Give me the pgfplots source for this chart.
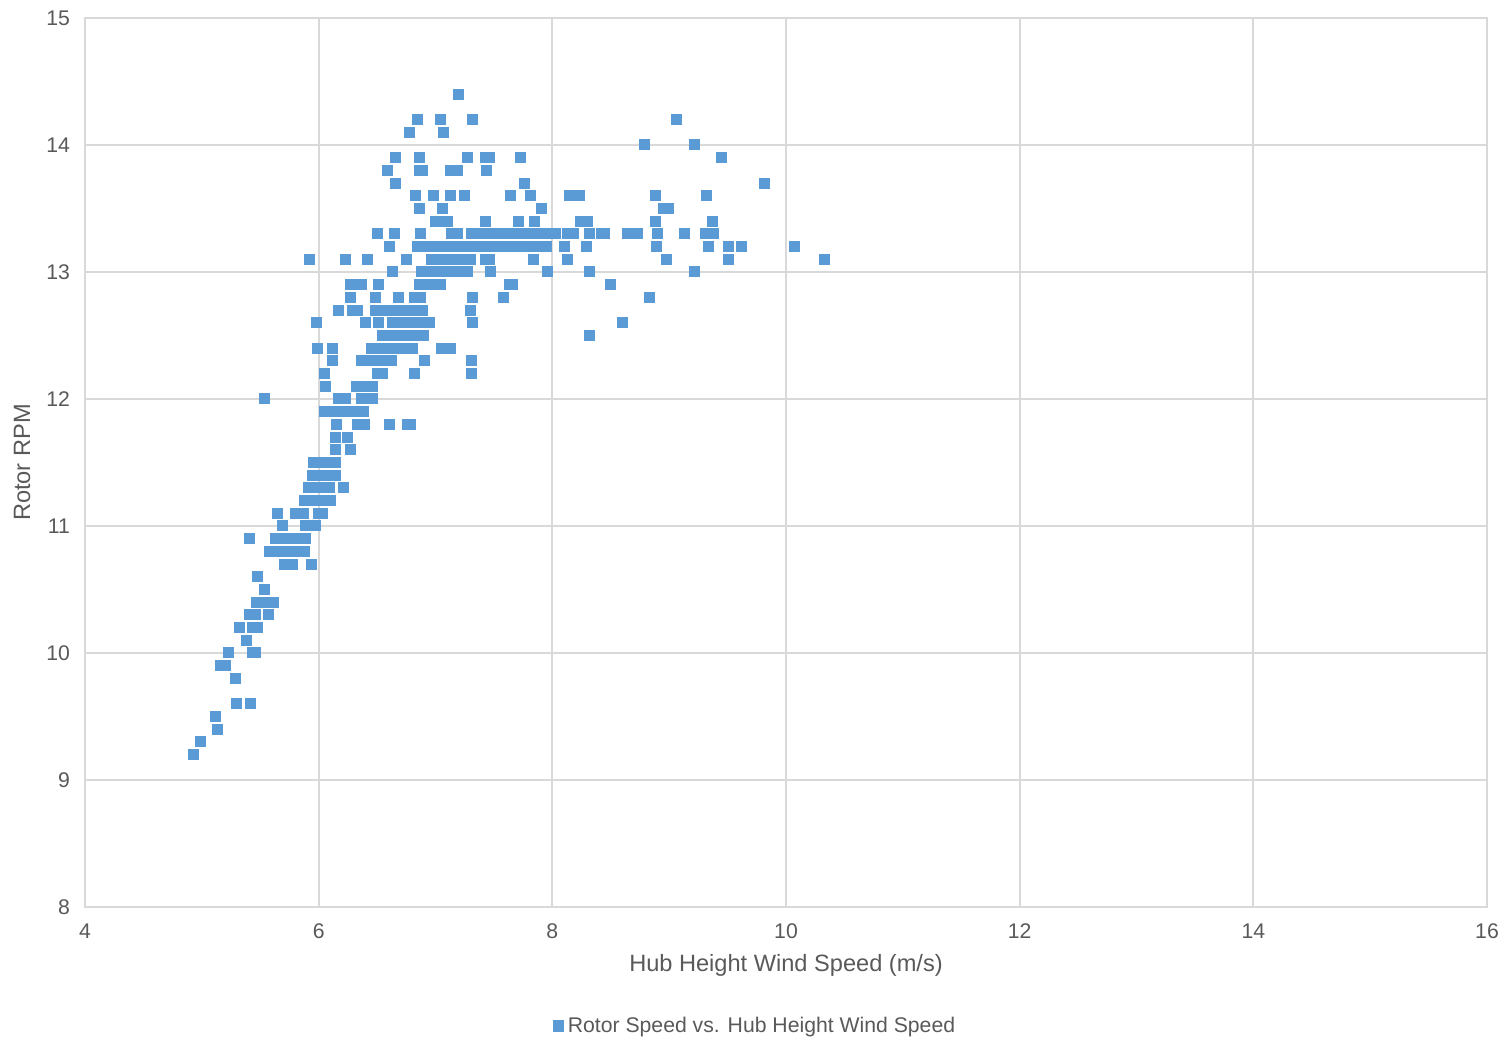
\documentclass[border=0pt]{standalone}
\usepackage{pgfplots}
\pgfplotsset{compat=1.18}
\usepackage{fontspec}
\setmainfont{Liberation Sans}
\definecolor{xblue}{RGB}{91,155,213}
\definecolor{xgrid}{RGB}{217,217,217}
\definecolor{xtext}{RGB}{89,89,89}
\begin{document}
\begin{tikzpicture}
\begin{axis}[
  name=ax,
  scale only axis,
  width=701bp, height=444.5bp,
  xmin=4, xmax=16, ymin=8, ymax=15,
  xtick={4,6,8,10,12,14,16},
  ytick={8,9,10,11,12,13,14,15},
  major tick length=0pt,
  grid=major,
  major grid style={xgrid, line width=1bp},
  axis line style={xgrid, line width=1bp},
  /pgf/number format/assume math mode=true,
  tick label style={font=\fontsize{10.6bp}{12bp}\selectfont, text=xtext},
  xticklabel style={yshift=-5bp},
  yticklabel style={xshift=-4bp},
  xlabel={Hub Height Wind Speed (m/s)},
  ylabel={Rotor RPM},
  label style={font=\fontsize{11.8bp}{14bp}\selectfont, text=xtext},
  xlabel style={at={(axis description cs:0.5,-0.0652)}, anchor=center},
  ylabel style={at={(axis description cs:-0.0449,0.5)}, anchor=center},
  legend style={at={(axis description cs:0.4786,-0.1339)}, anchor=center, draw=none, fill=none,
    font=\fontsize{10.6bp}{12bp}\selectfont, text=xtext, inner sep=0pt},
  legend image code/.code={\fill[xblue] (0bp,-2.6bp) rectangle (5bp,2.6bp);},
  legend style={/tikz/every even column/.append style={column sep=1.5bp}},
  clip=false,
]
\addplot[color=xblue, only marks, mark=square*, mark size=2.5bp, line width=0.5bp, mark options={draw=xblue, fill=xblue, solid}] table[row sep=\\] {
x y\\
4.93 9.2\\ 4.99 9.3\\ 5.13 9.4\\ 5.12 9.5\\ 5.30 9.6\\ 5.42 9.6\\ 5.29 9.8\\
5.16 9.9\\ 5.20 9.9\\ 5.23 10.0\\ 5.43 10.0\\ 5.46 10.0\\ 5.38 10.1\\
5.32 10.2\\ 5.43 10.2\\ 5.48 10.2\\ 5.41 10.3\\ 5.46 10.3\\ 5.57 10.3\\
5.47 10.4\\ 5.54 10.4\\ 5.61 10.4\\ 5.54 10.5\\ 5.48 10.6\\
5.71 10.7\\ 5.78 10.7\\ 5.94 10.7\\
5.58 10.8\\ 5.63 10.8\\ 5.68 10.8\\ 5.73 10.8\\ 5.78 10.8\\ 5.83 10.8\\ 5.88 10.8\\
5.41 10.9\\ 5.63 10.9\\ 5.68 10.9\\ 5.73 10.9\\ 5.78 10.9\\ 5.84 10.9\\ 5.89 10.9\\
5.69 11.0\\ 5.89 11.0\\ 5.97 11.0\\
5.65 11.1\\ 5.80 11.1\\ 5.87 11.1\\ 6.00 11.1\\ 6.03 11.1\\
5.88 11.2\\ 5.93 11.2\\ 5.99 11.2\\ 6.04 11.2\\ 6.10 11.2\\
5.91 11.3\\ 5.96 11.3\\ 6.00 11.3\\ 6.05 11.3\\ 6.09 11.3\\ 6.21 11.3\\
5.95 11.4\\ 6.00 11.4\\ 6.05 11.4\\ 6.10 11.4\\ 6.14 11.4\\
5.96 11.5\\ 6.01 11.5\\ 6.06 11.5\\ 6.10 11.5\\ 6.14 11.5\\
6.14 11.6\\ 6.27 11.6\\ 6.14 11.7\\ 6.25 11.7\\
6.15 11.8\\ 6.33 11.8\\ 6.39 11.8\\ 6.61 11.8\\ 6.76 11.8\\ 6.79 11.8\\
6.05 11.9\\ 6.10 11.9\\ 6.15 11.9\\ 6.20 11.9\\ 6.25 11.9\\ 6.30 11.9\\ 6.34 11.9\\ 6.38 11.9\\
5.54 12.0\\ 6.17 12.0\\ 6.23 12.0\\ 6.37 12.0\\ 6.41 12.0\\ 6.46 12.0\\
6.06 12.1\\ 6.32 12.1\\ 6.37 12.1\\ 6.41 12.1\\ 6.46 12.1\\
6.05 12.2\\ 6.50 12.2\\ 6.55 12.2\\ 6.82 12.2\\ 7.31 12.2\\
6.12 12.3\\ 6.37 12.3\\ 6.42 12.3\\ 6.47 12.3\\ 6.52 12.3\\ 6.57 12.3\\ 6.62 12.3\\ 6.91 12.3\\ 7.31 12.3\\
5.99 12.4\\ 6.12 12.4\\ 6.45 12.4\\ 6.50 12.4\\ 6.55 12.4\\ 6.60 12.4\\ 6.65 12.4\\ 6.70 12.4\\ 6.75 12.4\\ 6.80 12.4\\ 7.05 12.4\\ 7.13 12.4\\
6.55 12.5\\ 6.60 12.5\\ 6.65 12.5\\ 6.70 12.5\\ 6.75 12.5\\ 6.80 12.5\\ 6.85 12.5\\ 6.90 12.5\\ 8.32 12.5\\
5.98 12.6\\ 6.40 12.6\\ 6.51 12.6\\ 6.63 12.6\\ 6.68 12.6\\ 6.73 12.6\\ 6.79 12.6\\ 6.84 12.6\\ 6.90 12.6\\ 6.95 12.6\\ 7.32 12.6\\ 8.60 12.6\\
6.17 12.7\\ 6.29 12.7\\ 6.33 12.7\\ 6.49 12.7\\ 6.54 12.7\\ 6.59 12.7\\ 6.64 12.7\\ 6.69 12.7\\ 6.74 12.7\\ 6.79 12.7\\ 6.84 12.7\\ 6.89 12.7\\ 7.30 12.7\\
6.27 12.8\\ 6.49 12.8\\ 6.68 12.8\\ 6.82 12.8\\ 6.87 12.8\\ 7.32 12.8\\ 7.58 12.8\\ 8.83 12.8\\
6.27 12.9\\ 6.37 12.9\\ 6.51 12.9\\ 6.86 12.9\\ 6.91 12.9\\ 6.96 12.9\\ 7.00 12.9\\ 7.04 12.9\\ 7.63 12.9\\ 7.66 12.9\\ 8.50 12.9\\
6.63 13.0\\ 6.88 13.0\\ 6.93 13.0\\ 6.98 13.0\\ 7.03 13.0\\ 7.08 13.0\\ 7.13 13.0\\ 7.18 13.0\\ 7.23 13.0\\ 7.27 13.0\\ 7.47 13.0\\ 7.96 13.0\\ 8.32 13.0\\ 9.22 13.0\\
5.92 13.1\\ 6.23 13.1\\ 6.42 13.1\\ 6.75 13.1\\ 6.97 13.1\\ 7.02 13.1\\ 7.07 13.1\\ 7.12 13.1\\ 7.17 13.1\\ 7.22 13.1\\ 7.26 13.1\\ 7.30 13.1\\ 7.43 13.1\\ 7.46 13.1\\ 7.84 13.1\\ 8.13 13.1\\ 8.98 13.1\\ 9.51 13.1\\ 10.33 13.1\\
6.61 13.2\\ 6.85 13.2\\ 6.90 13.2\\ 6.95 13.2\\ 7.00 13.2\\ 7.05 13.2\\ 7.10 13.2\\ 7.15 13.2\\ 7.20 13.2\\ 7.25 13.2\\ 7.30 13.2\\ 7.35 13.2\\ 7.40 13.2\\ 7.45 13.2\\ 7.50 13.2\\ 7.55 13.2\\ 7.60 13.2\\ 7.65 13.2\\ 7.70 13.2\\ 7.75 13.2\\ 7.80 13.2\\ 7.85 13.2\\ 7.90 13.2\\ 7.95 13.2\\
8.10 13.2\\ 8.29 13.2\\ 8.89 13.2\\ 9.34 13.2\\ 9.51 13.2\\ 9.62 13.2\\ 10.07 13.2\\
6.50 13.3\\ 6.65 13.3\\ 6.87 13.3\\ 7.14 13.3\\ 7.19 13.3\\ 7.31 13.3\\ 7.36 13.3\\ 7.41 13.3\\ 7.46 13.3\\ 7.51 13.3\\ 7.56 13.3\\ 7.61 13.3\\ 7.66 13.3\\ 7.71 13.3\\ 7.76 13.3\\ 7.81 13.3\\ 7.86 13.3\\ 7.91 13.3\\ 7.96 13.3\\ 8.00 13.3\\ 8.03 13.3\\
8.13 13.3\\ 8.18 13.3\\ 8.32 13.3\\ 8.42 13.3\\ 8.45 13.3\\ 8.64 13.3\\ 8.73 13.3\\ 8.90 13.3\\ 9.13 13.3\\ 9.31 13.3\\ 9.38 13.3\\
7.00 13.4\\ 7.05 13.4\\ 7.10 13.4\\ 7.43 13.4\\ 7.71 13.4\\ 7.85 13.4\\ 8.24 13.4\\ 8.30 13.4\\ 8.88 13.4\\ 9.37 13.4\\
6.86 13.5\\ 7.06 13.5\\ 7.91 13.5\\ 8.95 13.5\\ 8.99 13.5\\
6.83 13.6\\ 6.98 13.6\\ 7.13 13.6\\ 7.25 13.6\\ 7.64 13.6\\ 7.81 13.6\\ 8.15 13.6\\ 8.23 13.6\\ 8.88 13.6\\ 9.32 13.6\\
6.66 13.7\\ 7.76 13.7\\ 9.82 13.7\\
6.59 13.8\\ 6.86 13.8\\ 6.89 13.8\\ 7.13 13.8\\ 7.19 13.8\\ 7.44 13.8\\
6.66 13.9\\ 6.86 13.9\\ 7.27 13.9\\ 7.43 13.9\\ 7.46 13.9\\ 7.73 13.9\\ 9.45 13.9\\
8.79 14.0\\ 9.22 14.0\\
6.78 14.1\\ 7.07 14.1\\
6.85 14.2\\ 7.04 14.2\\ 7.32 14.2\\ 9.06 14.2\\
7.20 14.4\\
};
\addlegendentry{Rotor Speed vs. Hub Height Wind Speed}
\end{axis}
\pgfresetboundingbox
\path ([xshift=-42.5bp,yshift=-66.5bp]ax.south west) rectangle ([xshift=10bp,yshift=9bp]ax.north east);
\end{tikzpicture}
\end{document}
